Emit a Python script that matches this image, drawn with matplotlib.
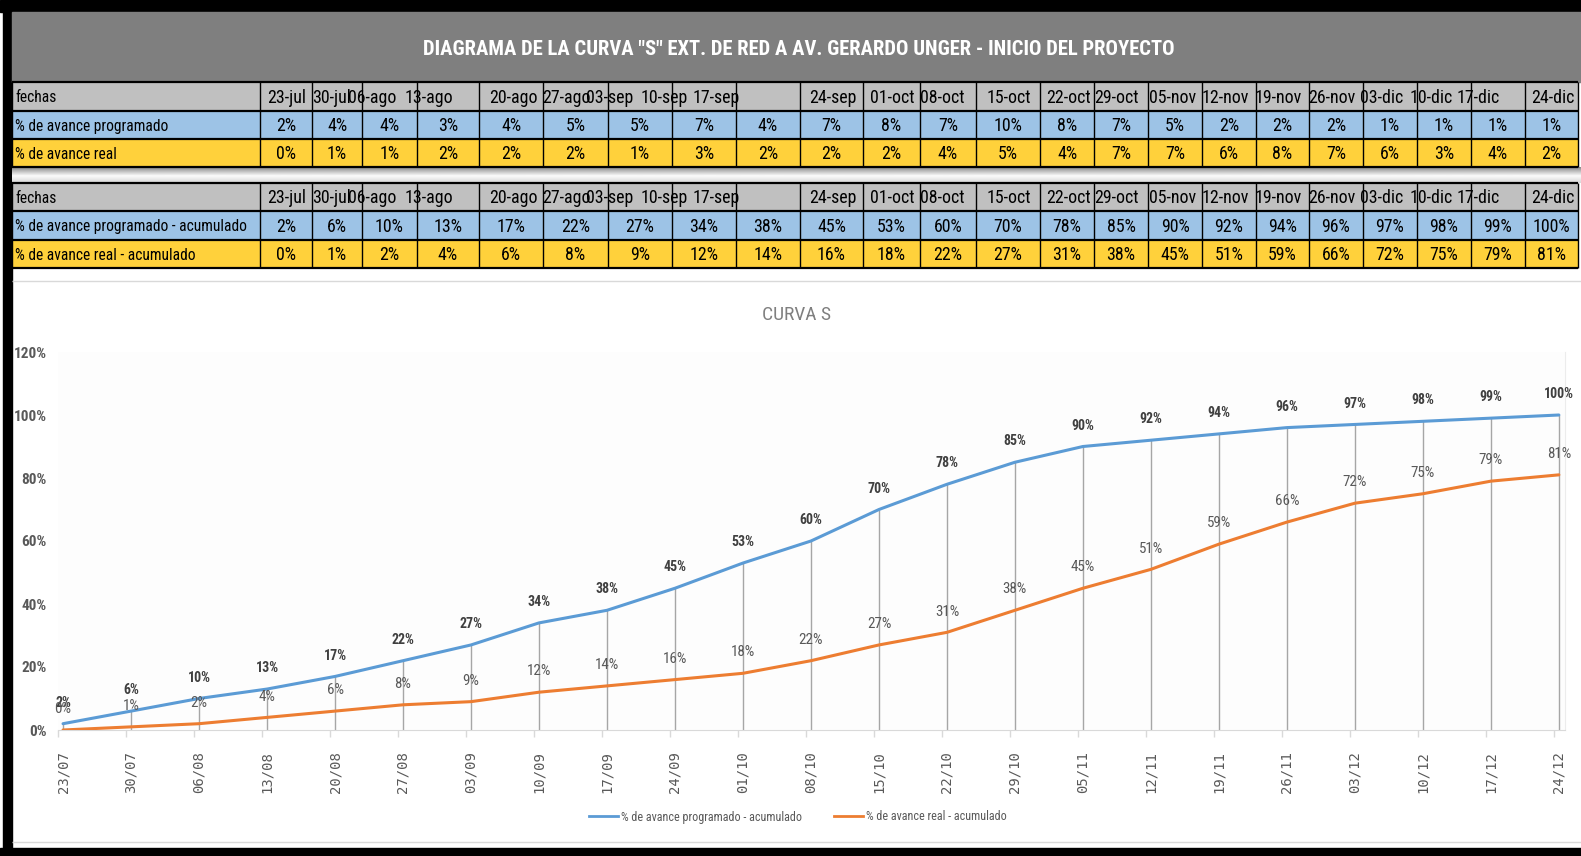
import numpy as np
import matplotlib
matplotlib.use("Agg")
import matplotlib.pyplot as plt
import matplotlib.ticker as mticker
from matplotlib import font_manager as fm
from matplotlib.lines import Line2D
from matplotlib.patches import Rectangle

W, H = 1581, 856

# ---- data ----
FECHAS = ["23-jul", "30-jul", "06-ago", "13-ago", "20-ago", "27-ago", "03-sep",
          "10-sep", "17-sep", "24-sep", "01-oct", "08-oct", "15-oct", "22-oct",
          "29-oct", "05-nov", "12-nov", "19-nov", "26-nov", "03-dic", "10-dic",
          "17-dic", "24-dic"]
FECHAS_EJE = ["23/07", "30/07", "06/08", "13/08", "20/08", "27/08", "03/09",
              "10/09", "17/09", "24/09", "01/10", "08/10", "15/10", "22/10",
              "29/10", "05/11", "12/11", "19/11", "26/11", "03/12", "10/12",
              "17/12", "24/12"]
PROG = [2, 4, 4, 3, 4, 5, 5, 7, 4, 7, 8, 7, 10, 8, 7, 5, 2, 2, 2, 1, 1, 1, 1]
REAL = [0, 1, 1, 2, 2, 2, 1, 3, 2, 2, 2, 4, 5, 4, 7, 7, 6, 8, 7, 6, 3, 4, 2]
PROG_ACUM = [2, 6, 10, 13, 17, 22, 27, 34, 38, 45, 53, 60, 70, 78, 85, 90, 92,
             94, 96, 97, 98, 99, 100]
REAL_ACUM = [0, 1, 2, 4, 6, 8, 9, 12, 14, 16, 18, 22, 27, 31, 38, 45, 51, 59,
             66, 72, 75, 79, 81]

TITULO = 'DIAGRAMA DE LA CURVA "S" EXT. DE RED A AV. GERARDO UNGER - INICIO DEL PROYECTO'
FILAS_1 = ["fechas", "% de avance programado", "% de avance real"]
FILAS_2 = ["fechas", "% de avance programado - acumulado",
           "% de avance real - acumulado"]
SERIES = ["% de avance programado - acumulado", "% de avance real - acumulado"]

# ---- layout (pixels of the screenshot) ----
COL_EDGES = [12, 260, 312, 362, 417, 479, 543, 608, 672, 736, 800, 863, 920,
             976, 1040, 1094, 1148, 1202, 1256, 1309, 1363, 1417, 1471, 1525, 1578]
HDR_X = [267, 312, 348, 405, 489, 542, 586, 641, 693, 809, 870, 920, 987, 1046,
         1094, 1149, 1202, 1255, 1308, 1360, 1410, 1457, 1531]
T1_Y = [82, 111, 139, 167]
T2_Y = [183, 211, 240, 268]

GRIS_TIT = "#7f7f7f"
GRIS_HDR = "#c0c0c0"
AZUL_FILA = "#9dc3e6"
AMARILLO = "#ffd13b"
AZUL = "#5b9bd5"
NARANJA = "#ed7d31"
TXT = "#595959"

# pick a narrow face if one is installed
PREF = ["Liberation Sans Narrow", "Roboto Condensed", "Open Sans Condensed",
        "Noto Sans", "DejaVu Sans", "Roboto", "Open Sans", "Inter", "Lato"]
cond = [(f.name, f.stretch) for f in fm.fontManager.ttflist
        if ("Narrow" in f.name or "Condensed" in f.name
            or f.stretch in ("condensed", "semi-condensed", "extra-condensed"))]
FAMILY, STRETCH = "Liberation Sans", "normal"
for p in PREF:
    hit = [c for c in cond if c[0] == p]
    if hit:
        FAMILY, STRETCH = hit[0]
        break
plt.rcParams["font.family"] = [FAMILY, "DejaVu Sans"]
plt.rcParams["font.stretch"] = STRETCH

fig = plt.figure(figsize=(W / 100, H / 100), dpi=100)
fig.patch.set_facecolor("white")
renderer = fig.canvas.get_renderer()

bg = fig.add_axes([0, 0, 1, 1])
bg.set_xlim(0, W)
bg.set_ylim(H, 0)
bg.axis("off")


def size_for(s, width_px, cap=None, **kw):
    t = bg.text(0, 0, s, fontsize=10, **kw)
    w = t.get_window_extent(renderer).width
    t.remove()
    size = 10 * width_px / w
    return min(size, cap) if cap else size


TS_LAB = size_for("% de avance programado - acumulado", 232, cap=13.5)
TS = min(13.5, TS_LAB * 1.15)
TITLE_S = size_for(TITULO, 752, cap=20, fontweight="bold")
LAB_S = size_for("100%", 30, cap=11, fontweight="bold")
LEG_S = size_for(SERIES[0], 180, cap=9)
CS_S = size_for("CURVA S", 70, cap=14)

# frame and title band
bg.add_patch(Rectangle((0, 0), W, 12, color="black"))
bg.add_patch(Rectangle((3, 0), 9, H, color="black"))
bg.add_patch(Rectangle((0, 848), W, 8, color="black"))
bg.add_patch(Rectangle((12, 12), W - 12, 70, color=GRIS_TIT))
bg.text(799, 49, TITULO, color="white", fontweight="bold", fontsize=TITLE_S,
        ha="center", va="center")

# shadow between the two tables
grad = np.concatenate([np.linspace(0.55, 0.97, 9), np.linspace(0.97, 0.85, 7)])
bg.imshow(grad[:, None], extent=[12, W, T2_Y[0], T1_Y[-1]], aspect="auto",
          cmap="gray", vmin=0, vmax=1, zorder=1)
bg.set_xlim(0, W)
bg.set_ylim(H, 0)


def draw_table(ys, labels, rows):
    fills = [GRIS_HDR, AZUL_FILA, AMARILLO]
    for r in range(3):
        bg.add_patch(Rectangle((COL_EDGES[0], ys[r]), COL_EDGES[-1] - COL_EDGES[0],
                               ys[r + 1] - ys[r], facecolor=fills[r],
                               edgecolor="none", zorder=2))
        bg.text(15, (ys[r] + ys[r + 1]) / 2 + 1, labels[r], fontsize=TS_LAB,
                ha="left", va="center", color="black", zorder=3)
    ym = (ys[0] + ys[1]) / 2 + 1
    for x, d in zip(HDR_X, FECHAS):
        bg.text(x, ym, d, fontsize=TS, ha="left", va="center", zorder=3)
    for r, vals in enumerate(rows, start=1):
        ym = (ys[r] + ys[r + 1]) / 2 + 1
        for c, v in enumerate(vals):
            xc = (COL_EDGES[c + 1] + COL_EDGES[c + 2]) / 2
            bg.text(xc, ym, f"{v}%", fontsize=TS, ha="center", va="center",
                    zorder=3)
    bg.hlines(ys, COL_EDGES[0], COL_EDGES[-1], color="black", lw=1.6, zorder=4)
    bg.vlines(COL_EDGES, ys[0], ys[-1], color="black", lw=1.0, zorder=4)


draw_table(T1_Y, FILAS_1, [PROG, REAL])
draw_table(T2_Y, FILAS_2, [PROG_ACUM, REAL_ACUM])

# chart area separators and title
bg.hlines([281, 842], 12, W, color="#d9d9d9", lw=1)
bg.text(797, 315, "CURVA S", fontsize=CS_S, color="#7f7f7f", ha="center",
        va="center")

# ---- chart ----
x0, x1, ytop, ybot = 58, 1565, 352, 730
ax = fig.add_axes([x0 / W, 1 - ybot / H, (x1 - x0) / W, (ybot - ytop) / H])
ax.set_facecolor("#fdfdfd")
x = np.arange(len(FECHAS_EJE))
pa = np.array(PROG_ACUM) / 100
ra = np.array(REAL_ACUM) / 100

ax.vlines(x, 0, pa, color="#a6a6a6", lw=1, zorder=1)
ax.plot(x, pa, color=AZUL, lw=2.2, zorder=3, solid_capstyle="round")
ax.plot(x, ra, color=NARANJA, lw=2.2, zorder=3, solid_capstyle="round")

for xi, v in zip(x, PROG_ACUM):
    ax.annotate(f"{v}%", (xi, v / 100), xytext=(0, 15), textcoords="offset points",
                ha="center", va="center", fontsize=LAB_S, fontweight="bold",
                color="#404040", zorder=5)
for xi, v in zip(x, REAL_ACUM):
    ax.annotate(f"{v}%", (xi, v / 100), xytext=(0, 15), textcoords="offset points",
                ha="center", va="center", fontsize=LAB_S * 1.08, color=TXT,
                zorder=5)

ax.set_xlim(-0.074, 22.09)
ax.set_ylim(0, 1.2)
ax.set_yticks(np.arange(0, 1.21, 0.2))
ax.yaxis.set_major_formatter(mticker.PercentFormatter(1.0, decimals=0))
ax.tick_params(axis="y", length=0, pad=8, labelsize=11, labelcolor=TXT)
for lab in ax.get_yticklabels():
    lab.set_fontweight("bold")

ax.set_xticks(x)
ax.set_xticklabels(FECHAS_EJE, rotation=90, family="DejaVu Sans Mono",
                   fontsize=10, color=TXT)
ax.tick_params(axis="x", which="major", length=0, pad=15)
ax.set_xticks(x - 0.074, minor=True)
ax.tick_params(axis="x", which="minor", length=5, color="#d9d9d9", width=1)

for s in ["top", "left"]:
    ax.spines[s].set_visible(False)
ax.spines["bottom"].set_color("#d9d9d9")
ax.spines["right"].set_color("#ececec")

handles = [Line2D([], [], color=AZUL, lw=2), Line2D([], [], color=NARANJA, lw=2)]
fig.legend(handles, SERIES, loc="center", bbox_to_anchor=(798 / W, 1 - 817 / H),
           ncol=2, frameon=False, fontsize=LEG_S, handlelength=2.4,
           handletextpad=0.3, columnspacing=2.6, labelcolor=TXT)

fig.savefig("out.png", dpi=100, facecolor="white")
